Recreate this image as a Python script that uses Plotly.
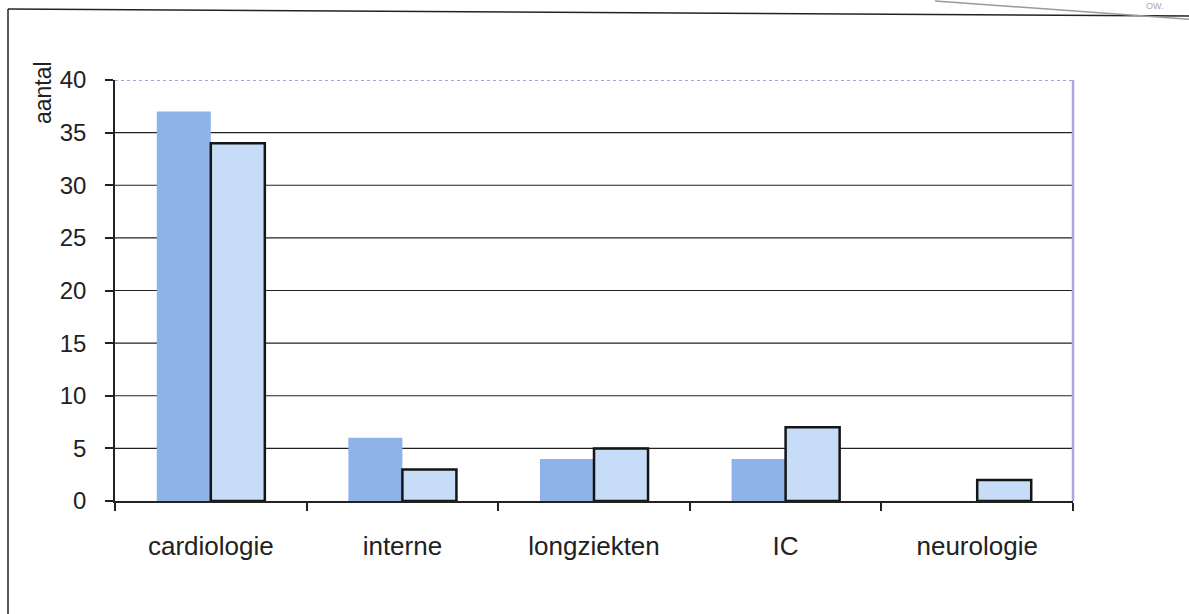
import plotly.graph_objects as go

# Aantallen per afdeling, twee reeksen
afdelingen = ["cardiologie", "interne", "longziekten", "IC", "neurologie"]
reeks_1 = [37, 6, 4, 4, 0]
reeks_2 = [34, 3, 5, 7, 2]
y_ticks = [0, 5, 10, 15, 20, 25, 30, 35, 40]

W, H = 1189, 614
L, R, T, B = 115, 116, 80, 113
pw, ph = W - L - R, H - T - B


def px_x(x):
    return (x - L) / pw


def px_y(y):
    return (H - B - y) / ph


fig = go.Figure()
fig.add_trace(go.Bar(
    x=afdelingen, y=reeks_1,
    marker=dict(color="#8db3e9", line=dict(width=0)),
    showlegend=False,
))
fig.add_trace(go.Bar(
    x=afdelingen, y=reeks_2,
    marker=dict(color="#c7ddf7", line=dict(color="#151515", width=2.5)),
    showlegend=False,
))

shapes = []
# horizontale rasterlijnen
for v in y_ticks[1:-1]:
    shapes.append(dict(type="line", xref="paper", yref="y", x0=0, x1=1, y0=v, y1=v,
                       line=dict(color="#222222", width=1.2), layer="below"))
# bovenrand en rechterrand van het plotgebied
shapes.append(dict(type="line", xref="paper", yref="y", x0=0, x1=1, y0=40, y1=40,
                   line=dict(color="#a4a2dc", width=2, dash="dot"), layer="above"))
shapes.append(dict(type="line", xref="paper", yref="paper", x0=1, x1=1, y0=0, y1=1,
                   line=dict(color="#aaa6e0", width=2.5), layer="above"))
# kader rond de grafiek
shapes.append(dict(type="line", xref="paper", yref="paper",
                   x0=px_x(8), x1=px_x(8), y0=px_y(9), y1=px_y(640),
                   line=dict(color="#222222", width=1.5)))
shapes.append(dict(type="line", xref="paper", yref="paper",
                   x0=px_x(8), x1=px_x(1200), y0=px_y(9), y1=px_y(16),
                   line=dict(color="#222222", width=1.5)))
# stempelrand rechtsboven
shapes.append(dict(type="line", xref="paper", yref="paper",
                   x0=px_x(935), x1=px_x(1200), y0=px_y(1), y1=px_y(20),
                   line=dict(color="#9a9a9a", width=1.5)))

fig.update_layout(
    width=W, height=H,
    margin=dict(l=L, r=R, t=T, b=B, pad=0),
    paper_bgcolor="white", plot_bgcolor="white",
    barmode="group", bargap=0.436, bargroupgap=0,
    font=dict(family="Liberation Sans, Arial, sans-serif", size=24, color="#222222"),
    shapes=shapes,
    xaxis=dict(
        showgrid=False, showline=True, linecolor="#222222", linewidth=1.5,
        ticks="outside", ticklen=8, tickwidth=1.5, tickcolor="#222222",
        tickson="boundaries", ticklabelstandoff=21,
        tickfont=dict(size=26),
    ),
    yaxis=dict(
        range=[0, 40], tickvals=y_ticks, showgrid=False, zeroline=False,
        showline=True, linecolor="#222222", linewidth=1.5,
        ticks="outside", ticklen=8, tickwidth=1.5, tickcolor="#222222",
        ticklabelstandoff=14, tickfont=dict(size=24),
    ),
    annotations=[
        dict(text="aantal", textangle=-90, xref="paper", yref="paper",
             x=px_x(43), y=px_y(93), xanchor="center", yanchor="middle",
             showarrow=False, font=dict(size=23, color="#222222")),
        dict(text="OW.", xref="paper", yref="paper",
             x=px_x(1145), y=px_y(0), xanchor="left", yanchor="top",
             showarrow=False, borderpad=0, font=dict(size=9, color="#aaaaaa")),
    ],
)

fig.write_html("out.html")
